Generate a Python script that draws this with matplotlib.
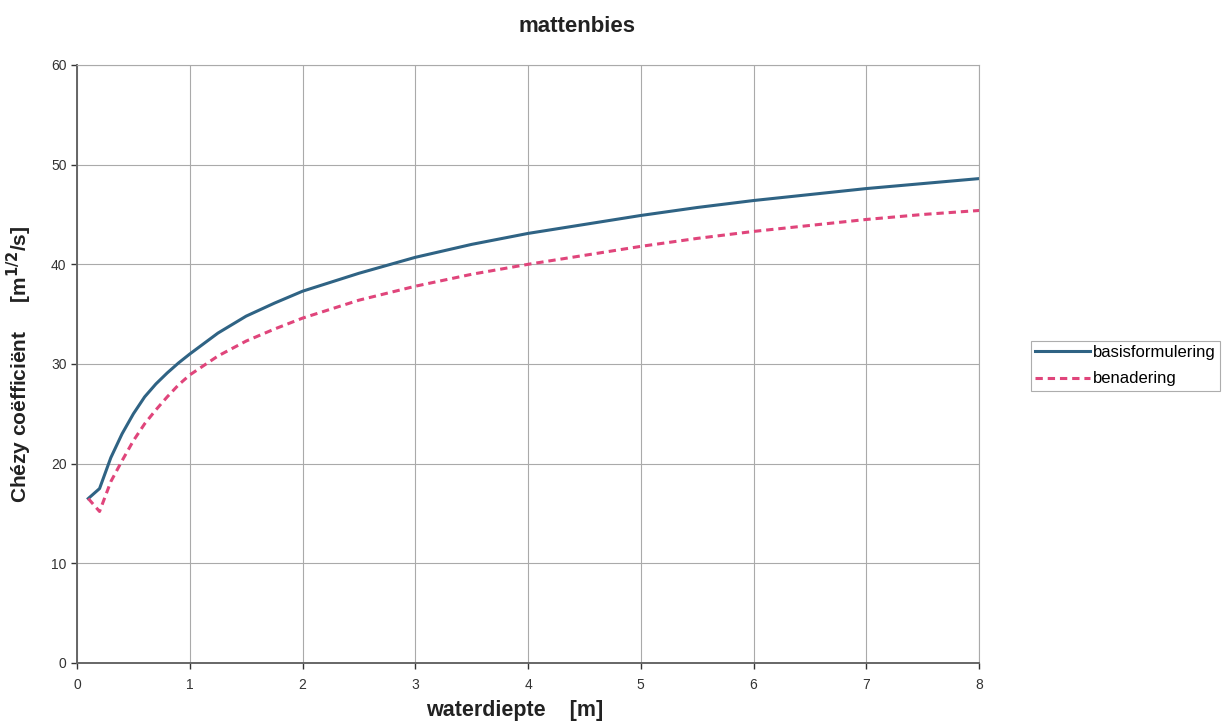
import matplotlib.pyplot as plt

# waterdiepte [m]
diepte = [0.1, 0.2, 0.3, 0.4, 0.5, 0.6, 0.7, 0.8, 0.9, 1.0, 1.25, 1.5, 1.75,
          2.0, 2.5, 3.0, 3.5, 4.0, 4.5, 5.0, 5.5, 6.0, 6.5, 7.0, 7.5, 8.0]

# Chezy coefficient [m^1/2/s]
basis = [16.5, 17.5, 20.6, 23.0, 25.0, 26.7, 28.0, 29.1, 30.1, 31.0, 33.1, 34.8, 36.1,
         37.3, 39.1, 40.7, 42.0, 43.1, 44.0, 44.9, 45.7, 46.4, 47.0, 47.6, 48.1, 48.6]
benadering = [16.5, 15.2, 18.2, 20.3, 22.3, 24.0, 25.4, 26.7, 27.9, 28.9, 30.8, 32.3, 33.5,
              34.6, 36.4, 37.8, 39.0, 40.0, 40.9, 41.8, 42.6, 43.3, 43.9, 44.5, 45.0, 45.4]

plt.rcParams['font.family'] = ['Liberation Sans', 'DejaVu Sans']

fig = plt.figure(figsize=(12.32, 7.26), dpi=100)
ax = fig.add_axes([0.0625, 0.0868, 0.7322, 0.8237])

ax.plot(diepte, basis, color='#2f6384', lw=2.2, label='basisformulering')
ax.plot(diepte, benadering, color='#e0457b', lw=2.2, ls=(0, (2.4, 1.6)), label='benadering')

ax.set_xlim(0, 8)
ax.set_ylim(0, 60)
ax.set_xticks(range(0, 9))
ax.set_yticks(range(0, 61, 10))
ax.grid(True, color='#aaaaaa', lw=0.8)
ax.set_axisbelow(True)

for s in ['top', 'right']:
    ax.spines[s].set_color('#aaaaaa')
    ax.spines[s].set_linewidth(0.8)
for s in ['left', 'bottom']:
    ax.spines[s].set_color('#666666')
    ax.spines[s].set_linewidth(1.4)

ax.tick_params(labelsize=10, colors='#333333', length=4, width=1, direction='out')
ax.tick_params(axis='x', pad=7)

fig.text(0.468, 0.963, 'mattenbies', fontsize=16, fontweight='bold', color='#222222',
         ha='center', va='center')
ax.set_xlabel('waterdiepte    [m]', fontsize=15.5, fontweight='bold', color='#222222')
ax.xaxis.set_label_coords(0.485, -0.062)
ax.set_ylabel('Chézy coëfficiënt     [m$^{\\mathbf{1/2}}$/s]', fontsize=15, fontweight='bold',
              color='#222222')
ax.yaxis.set_label_coords(-0.048, 0.5)

leg = ax.legend(loc='center left', bbox_to_anchor=(1.048, 0.497), fontsize=12,
                frameon=True, fancybox=False, handlelength=3.3, borderpad=0.25,
                labelspacing=0.68, handletextpad=0.2)
leg.get_frame().set_edgecolor('#999999')
leg.get_frame().set_linewidth(0.8)

fig.savefig('out.png', dpi=100, facecolor='white')
